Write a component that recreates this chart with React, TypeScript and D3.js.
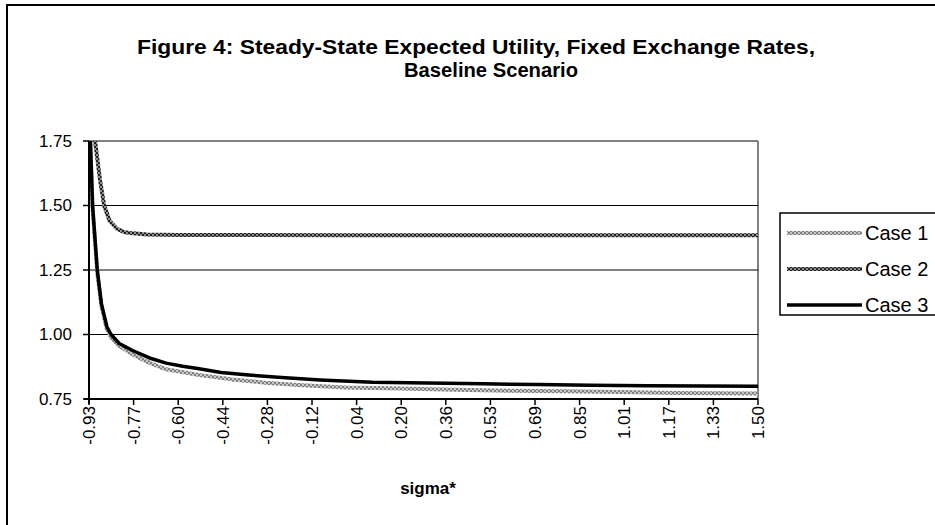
import React from "react";
import * as d3 from "d3";

const xTickLabels = ["-0.93","-0.77","-0.60","-0.44","-0.28","-0.12","0.04","0.20","0.36","0.53","0.69","0.85","1.01","1.17","1.33","1.50"];
const yTicks = [0.75, 1.0, 1.25, 1.5, 1.75];

const case1Sigma = [-0.93,-0.925,-0.917,-0.90,-0.885,-0.865,-0.85,-0.82,-0.77,-0.71,-0.65,-0.53,-0.41,-0.29,-0.17,0.0,0.2,0.4,0.6,0.8,1.0,1.2,1.35,1.5];
const case1Values = [1.95,1.74,1.49,1.24,1.11,1.02,0.99,0.955,0.922,0.89,0.865,0.843,0.826,0.813,0.804,0.795,0.791,0.786,0.782,0.780,0.777,0.773,0.772,0.771];

const case2Sigma = [-0.93,-0.908,-0.89,-0.875,-0.855,-0.829,-0.80,-0.77,-0.72,-0.60,0.0,1.5];
const case2Values = [2.4,1.75,1.6,1.5,1.44,1.41,1.396,1.392,1.388,1.386,1.385,1.385];

const case3Sigma = [-0.93,-0.925,-0.917,-0.90,-0.885,-0.865,-0.85,-0.82,-0.77,-0.71,-0.65,-0.59,-0.53,-0.45,-0.35,-0.23,-0.09,0.10,0.30,0.50,0.70,0.89,1.10,1.30,1.50];
const case3Values = [2.0,1.75,1.5,1.25,1.12,1.03,1.0,0.965,0.937,0.909,0.889,0.877,0.867,0.853,0.843,0.833,0.824,0.815,0.812,0.809,0.806,0.803,0.801,0.80,0.799];

const seriesNames = ["Case 1", "Case 2", "Case 3"];

const W = 935, H = 525;
const M = { left: 89, top: 141, right: 758, bottom: 399 };

export default function App() {
  const x = d3.scaleLinear().domain([-0.93, 1.5]).range([M.left, M.right]);
  const y = d3.scaleLinear().domain([0.75, 1.75]).range([M.bottom, M.top]);
  const line = d3.line<[number, number]>().x(d => x(d[0])).y(d => y(d[1]));
  const mk = (s: number[], v: number[]) => s.map((sv, i) => [sv, v[i]] as [number, number]);
  const series = [
    { name: seriesNames[0], d: mk(case1Sigma, case1Values), stroke: "url(#pat1)", w: 4 },
    { name: seriesNames[1], d: mk(case2Sigma, case2Values), stroke: "url(#pat2)", w: 4 },
    { name: seriesNames[2], d: mk(case3Sigma, case3Values), stroke: "#000", w: 3.5 },
  ];
  const tickX = (i: number) => M.left + (i * (M.right - M.left)) / (xTickLabels.length - 1);
  const font = "'Liberation Sans', Arial, sans-serif";
  return (
    <svg width={W} height={H} style={{ position: "absolute", left: 0, top: 0, background: "#fff" }} fontFamily={font}>
      <defs>
        <pattern id="pat1" width="4" height="4" patternUnits="userSpaceOnUse">
          <rect width="4" height="4" fill="#c8c8c8" />
          <rect width="2" height="2" fill="#808080" />
          <rect x="2" y="2" width="2" height="2" fill="#808080" />
        </pattern>
        <pattern id="pat2" width="4" height="4" patternUnits="userSpaceOnUse">
          <rect width="4" height="4" fill="#909090" />
          <rect width="2" height="2" fill="#202020" />
          <rect x="2" y="2" width="2" height="2" fill="#202020" />
        </pattern>
        <clipPath id="plotclip">
          <rect x={M.left} y={M.top} width={M.right - M.left} height={M.bottom - M.top} />
        </clipPath>
      </defs>
      <rect x={0} y={0} width={W} height={H} fill="#fff" />
      <rect x={7} y={5} width={940} height={540} fill="none" stroke="#000" strokeWidth={2} />
      <text x={137} y={54} textLength={678} lengthAdjust="spacingAndGlyphs" fontWeight="bold" fontSize={20}>Figure 4: Steady-State Expected Utility, Fixed Exchange Rates,</text>
      <text x={404} y={77} textLength={174} lengthAdjust="spacingAndGlyphs" fontWeight="bold" fontSize={20}>Baseline Scenario</text>
      <line x1={M.left} x2={M.right} y1={M.top} y2={M.top} stroke="#808080" strokeWidth={2} />
      <line x1={M.right} x2={M.right} y1={M.top} y2={M.bottom} stroke="#808080" strokeWidth={2} />
      {yTicks.filter(t => t > 0.75 && t < 1.75).map(t => (
        <line key={t} x1={M.left} x2={M.right} y1={y(t)} y2={y(t)} stroke="#000" strokeWidth={1} />
      ))}
      <g clipPath="url(#plotclip)">
        {series.map(s => (
          <path key={s.name} d={line(s.d) || ""} fill="none" stroke={s.stroke} strokeWidth={s.w} strokeLinejoin="round" />
        ))}
      </g>
      <line x1={M.left} x2={M.left} y1={M.top} y2={M.bottom + 5} stroke="#000" strokeWidth={2} />
      <line x1={M.left - 5} x2={M.right} y1={M.bottom} y2={M.bottom} stroke="#000" strokeWidth={2} />
      {yTicks.map(t => (
        <g key={t}>
          <line x1={M.left - 6} x2={M.left} y1={y(t)} y2={y(t)} stroke="#000" strokeWidth={1.5} />
          <text x={72} y={y(t)} dy="0.35em" textAnchor="end" fontSize={17}>{t.toFixed(2)}</text>
        </g>
      ))}
      {xTickLabels.map((lab, i) => (
        <g key={lab}>
          <line x1={tickX(i)} x2={tickX(i)} y1={M.bottom} y2={M.bottom + 6} stroke="#000" strokeWidth={1.5} />
          <text transform={`translate(${tickX(i)},${M.bottom + 7}) rotate(-90)`} textAnchor="end" dy="0.35em" fontSize={17}>{lab}</text>
        </g>
      ))}
      <text x={428} y={494} textAnchor="middle" fontWeight="bold" fontSize={17}>sigma*</text>
      <rect x={780} y={213} width={170} height={102} fill="#fff" stroke="#000" strokeWidth={1.5} />
      {series.map((s, i) => {
        const ly = 233 + i * 36;
        return (
          <g key={s.name}>
            <line x1={787} x2={862} y1={ly} y2={ly} stroke={s.stroke} strokeWidth={s.w} />
            <text x={865} y={ly} dy="0.36em" fontSize={20}>{s.name}</text>
          </g>
        );
      })}
    </svg>
  );
}
